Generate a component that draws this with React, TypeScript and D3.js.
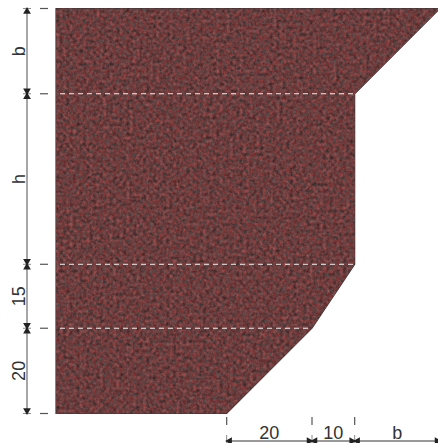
import React, { useEffect, useRef } from 'react';
import * as d3 from 'd3';

// section outline, in drawing units (x from left edge, y from bottom edge)
const outlineX = [0, 90, 70, 70, 60, 40, 0];
const outlineY = [95, 95, 75, 35, 20, 0, 0];

// height dimensions from the top down
const heightLabels = ['b', 'h', '15', '20'];
const heightSizes = [20, 40, 15, 20];

// width dimensions from left to right, starting at the bottom right corner
const widthStart = 40;
const widthLabels = ['20', '10', 'b'];
const widthSizes = [20, 10, 20];

const WIDTH = 438;
const HEIGHT = 443;
const INK = '#333';

export default function App() {
  const svgRef = useRef<SVGSVGElement>(null);

  useEffect(() => {
    if (!svgRef.current) return;
    const svg = d3.select(svgRef.current);
    svg.selectAll('*').remove();

    const x = d3.scaleLinear().domain([0, 90]).range([56, 440]);
    const y = d3.scaleLinear().domain([0, 95]).range([413.5, 8.5]);

    // Granite texture
    const defs = svg.append('defs');
    const filter = defs.append('filter')
      .attr('id', 'granite')
      .attr('x', 0).attr('y', 0).attr('width', 1).attr('height', 1)
      .attr('color-interpolation-filters', 'sRGB');
    filter.append('feTurbulence')
      .attr('type', 'fractalNoise')
      .attr('baseFrequency', 0.3)
      .attr('numOctaves', 3)
      .attr('seed', 7)
      .attr('result', 'noise');
    filter.append('feColorMatrix')
      .attr('in', 'noise')
      .attr('type', 'matrix')
      .attr('values', '0.5 0.2 0 0 0.07  0.06 0.24 0 0 0.09  0.06 0.24 0 0 0.09  0 0 0 0 1')
      .attr('result', 'tinted');
    filter.append('feGaussianBlur')
      .attr('in', 'tinted')
      .attr('stdDeviation', 0.6)
      .attr('result', 'soft');
    filter.append('feComposite')
      .attr('in', 'soft')
      .attr('in2', 'SourceAlpha')
      .attr('operator', 'in');

    const outline = d3.line<number>()
      .x(d => x(outlineX[d]))
      .y(d => y(outlineY[d]));
    const outlinePath = outline(d3.range(outlineX.length)) + 'Z';

    svg.append('path')
      .attr('d', outlinePath)
      .attr('fill', 'none')
      .attr('stroke', '#3a3434')
      .attr('stroke-width', 1.2);
    svg.append('path')
      .attr('d', outlinePath)
      .attr('fill', '#6a3a3a')
      .attr('filter', 'url(#granite)');

    // Cumulative break points of both dimension chains
    const yBreaks = [95, ...heightSizes.map((_, i) => 95 - d3.sum(heightSizes.slice(0, i + 1)))];
    const xBreaks = [widthStart, ...widthSizes.map((_, i) => widthStart + d3.sum(widthSizes.slice(0, i + 1)))];

    // Dashed white lines across the section
    yBreaks.slice(1, -1).forEach(v => {
      const right = v === 75 || v === 35 ? x(70) : x(60);
      svg.append('line')
        .attr('x1', x(0) + 4).attr('x2', right)
        .attr('y1', y(v)).attr('y2', y(v))
        .attr('stroke', '#f4eeee')
        .attr('stroke-width', 1)
        .attr('stroke-dasharray', '5 4');
    });

    // Height dimension chain
    const dimX = 27;
    svg.append('line')
      .attr('x1', dimX).attr('x2', dimX)
      .attr('y1', y(95)).attr('y2', y(0))
      .attr('stroke', '#777').attr('stroke-width', 1.3);

    const tri = d3.symbol().type(d3.symbolTriangle).size(26);
    yBreaks.forEach((v, i) => {
      svg.append('line')
        .attr('x1', dimX - 4).attr('x2', dimX + 4)
        .attr('y1', y(v)).attr('y2', y(v))
        .attr('stroke', '#888');
      svg.append('line')
        .attr('x1', 40).attr('x2', 48)
        .attr('y1', y(v)).attr('y2', y(v))
        .attr('stroke', '#555').attr('stroke-width', 1.2);
      if (i > 0) {
        svg.append('path').attr('d', tri())
          .attr('transform', `translate(${dimX},${y(v) - 3}) rotate(180)`)
          .attr('fill', '#222');
      }
      if (i < yBreaks.length - 1) {
        svg.append('path').attr('d', tri())
          .attr('transform', `translate(${dimX},${y(v) + 3})`)
          .attr('fill', '#222');
      }
    });

    heightLabels.forEach((label, i) => {
      const mid = (yBreaks[i] + yBreaks[i + 1]) / 2;
      svg.append('text')
        .attr('transform', `translate(25,${y(mid)}) rotate(-90)`)
        .attr('text-anchor', 'middle')
        .attr('font-family', '"Liberation Sans", Arial, sans-serif')
        .attr('font-size', 18)
        .attr('fill', INK)
        .text(label);
    });

    // Width dimension chain
    const dimY = 441;
    svg.append('line')
      .attr('x1', x(widthStart)).attr('x2', x(90))
      .attr('y1', dimY).attr('y2', dimY)
      .attr('stroke', '#777').attr('stroke-width', 1.3);

    xBreaks.forEach((v, i) => {
      if (i < xBreaks.length - 1) {
        svg.append('line')
          .attr('x1', x(v)).attr('x2', x(v))
          .attr('y1', 417).attr('y2', 425)
          .attr('stroke', '#555').attr('stroke-width', 1.2);
        svg.append('line')
          .attr('x1', x(v)).attr('x2', x(v))
          .attr('y1', 435).attr('y2', 443)
          .attr('stroke', '#888');
        svg.append('path').attr('d', tri())
          .attr('transform', `translate(${x(v) + 3},${dimY}) rotate(-90)`)
          .attr('fill', '#222');
      }
      if (i > 0) {
        svg.append('path').attr('d', tri())
          .attr('transform', `translate(${x(v) - 3},${dimY}) rotate(90)`)
          .attr('fill', '#222');
      }
    });

    widthLabels.forEach((label, i) => {
      const mid = (xBreaks[i] + xBreaks[i + 1]) / 2;
      svg.append('text')
        .attr('x', x(mid))
        .attr('y', 439)
        .attr('text-anchor', 'middle')
        .attr('font-family', '"Liberation Sans", Arial, sans-serif')
        .attr('font-size', 18)
        .attr('fill', INK)
        .text(label);
    });
  }, []);

  return (
    <svg
      ref={svgRef}
      width={WIDTH}
      height={HEIGHT}
      style={{ position: 'absolute', left: 0, top: 0, display: 'block', background: '#fff' }}
    />
  );
}
